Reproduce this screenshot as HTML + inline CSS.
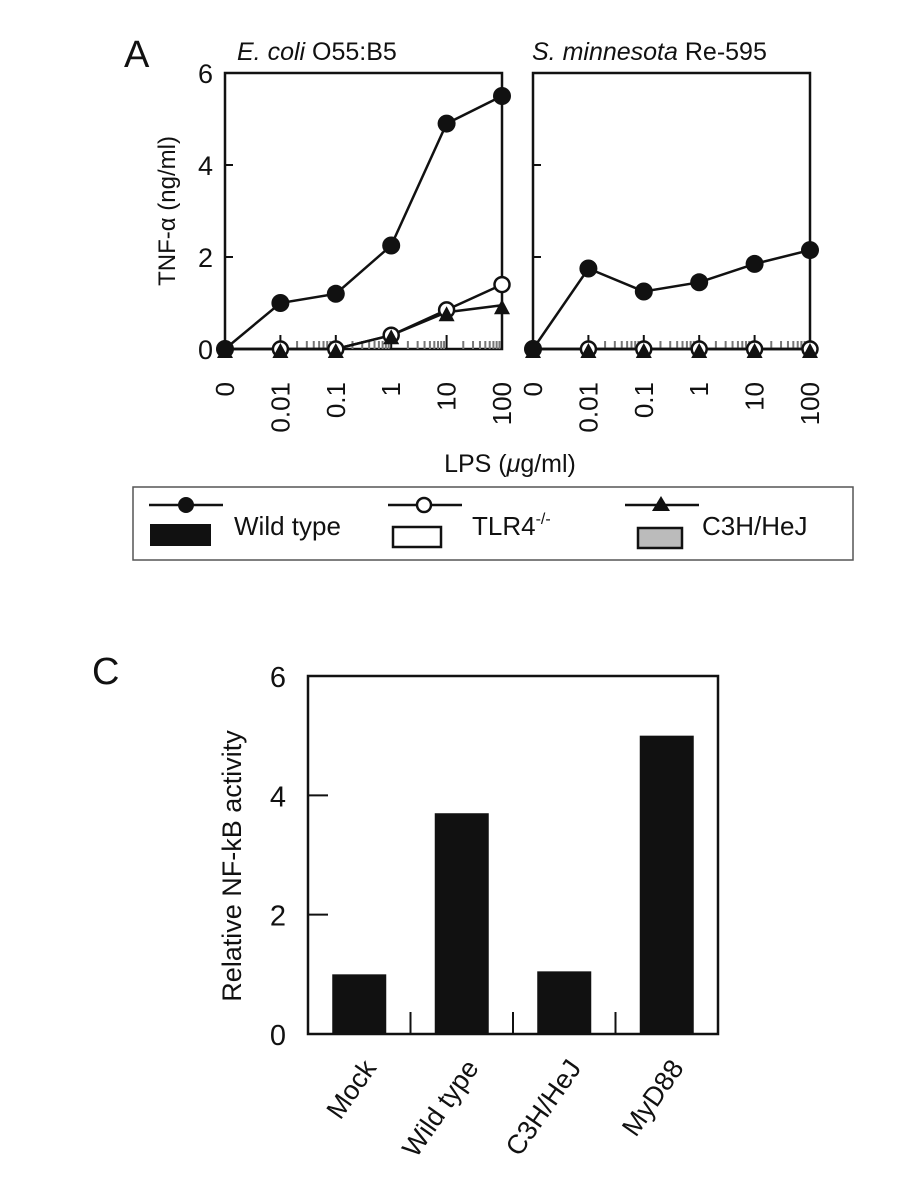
<!DOCTYPE html>
<html><head><meta charset="utf-8"><style>
html,body{margin:0;padding:0;background:#fff;}
svg{display:block;font-family:"Liberation Sans",sans-serif;}
</style></head><body>
<svg id="fig" width="924" height="1200" viewBox="0 0 924 1200">
<g id="panelA"></g>
<g id="legend">
  <rect x="133" y="487" width="720" height="73" fill="#fff" stroke="#555" stroke-width="1.5"/>
  <g>
    <line x1="149" y1="505" x2="223" y2="505" stroke="#111" stroke-width="2.5"/>
    <circle cx="186" cy="505" r="8" fill="#111"/>
    <rect x="150" y="524" width="61" height="22" fill="#111"/>
    <text x="234" y="535" font-size="26" fill="#111">Wild type</text>
  </g>
  <g>
    <line x1="388" y1="505" x2="462" y2="505" stroke="#111" stroke-width="2.5"/>
    <circle cx="424" cy="505" r="7" fill="#fff" stroke="#111" stroke-width="2.5"/>
    <rect x="393" y="527" width="48" height="20" fill="#fff" stroke="#111" stroke-width="2.5"/>
    <text x="472" y="535" font-size="26" fill="#111">TLR4<tspan font-size="16" dy="-11">-/-</tspan></text>
  </g>
  <g>
    <line x1="625" y1="505" x2="699" y2="505" stroke="#111" stroke-width="2.5"/>
    <polygon points="661,496 670,511 652,511" fill="#111"/>
    <rect x="638" y="528" width="44" height="20" fill="#bbb" stroke="#111" stroke-width="2.5"/>
    <text x="702" y="535" font-size="26" fill="#111">C3H/HeJ</text>
  </g>
</g>
<g id="panelC"></g>
</svg>
<script>
// Panel A data
const doses = ["0","0.01","0.1","1","10","100"];
const ecoliWT = [0, 1.0, 1.2, 2.25, 4.9, 5.5];
const ecoliTLR4 = [0, 0, 0, 0.3, 0.85, 1.4];
const ecoliC3H = [0, 0, 0, 0.3, 0.8, 0.95];
const smWT = [0, 1.75, 1.25, 1.45, 1.85, 2.15];
const smTLR4 = [0, 0, 0, 0, 0, 0];
const smC3H = [0, 0, 0, 0, 0, 0];
const yTicksA = [0, 2, 4, 6];
// Panel C data
const cats = ["Mock","Wild type","C3H/HeJ","MyD88"];
const nfkb = [1.0, 3.7, 1.05, 5.0];
const yTicksC = [0, 2, 4, 6];

const NS="http://www.w3.org/2000/svg";
function mk(tag, attrs, parent){const e=document.createElementNS(NS,tag);for(const k in attrs)e.setAttribute(k,attrs[k]);parent.appendChild(e);return e;}

const A=document.getElementById('panelA');
const yA=v=>349-(v/6)*276;
let t=mk('text',{x:124,y:67,'font-size':38,fill:'#111'},A);t.textContent='A';


t=mk('text',{x:0,y:0,'font-size':24,fill:'#111','text-anchor':'middle',transform:'translate(175,211) rotate(-90)'},A);
t.textContent='TNF-α (ng/ml)';


t=mk('text',{x:510,y:472,'font-size':25,fill:'#111','text-anchor':'middle'},A);
t.innerHTML='LPS (<tspan font-style="italic">μ</tspan>g/ml)';



const panels=[
 {x0:225,x1:502,title:'<tspan font-style="italic">E. coli</tspan> O55:B5',tx:237,series:[ecoliWT,ecoliTLR4,ecoliC3H],name:'ecoli',labels:true},
 {x0:533,x1:810,title:'<tspan font-style="italic">S. minnesota</tspan> Re-595',tx:532,series:[smWT,smTLR4,smC3H],name:'sminnesota',labels:false}
];
panels.forEach(p=>{
  const g=mk('g',{},A);
  
  
  const xA=i=>p.x0+(p.x1-p.x0)*i/(doses.length-1);
  const tt=mk('text',{x:p.tx,y:60,'font-size':25,fill:'#111'},g);tt.innerHTML=p.title;
  
  
  const box=mk('rect',{x:p.x0,y:yA(6),width:p.x1-p.x0,height:yA(0)-yA(6),fill:'none',stroke:'#111','stroke-width':2.5},g);
  
  
  yTicksA.forEach(v=>{
    mk('line',{x1:p.x0,x2:p.x0+8,y1:yA(v),y2:yA(v),stroke:'#111','stroke-width':2},g);
    if(p.labels){const l=mk('text',{x:p.x0-12,y:yA(v)+10,'font-size':27,fill:'#111','text-anchor':'end'},g);l.textContent=v;
      
      }
  });
  for(let i=1;i<doses.length;i++){
    mk('line',{x1:xA(i),x2:xA(i),y1:yA(0),y2:yA(0)-14,stroke:'#111','stroke-width':2},g);
    if(i<doses.length-1){
      const a=xA(i),w=xA(i+1)-a;
      for(let k=2;k<=9;k++){const xx=a+w*Math.log10(k);mk('line',{x1:xx,x2:xx,y1:yA(0),y2:yA(0)-8,stroke:'#777','stroke-width':2},g);}
    }
  }
  doses.forEach((d,i)=>{
    const l=mk('text',{x:0,y:0,'font-size':26,fill:'#111','text-anchor':'end',transform:`translate(${xA(i)+9},382) rotate(-90)`},g);
    l.textContent=d;
    
    
  });
  const markers=['circle','open','tri'];
  [0,1,2].forEach(si=>{
    const s=p.series[si];
    const pl=mk('polyline',{points:s.map((v,i)=>xA(i)+','+yA(v)).join(' '),fill:'none',stroke:'#111','stroke-width':2.5},g);
    
    
  });
  [1,2,0].forEach(si=>{
    const s=p.series[si];
    s.forEach((v,i)=>{
      let m;
      if(si===0)m=mk('circle',{cx:xA(i),cy:yA(v),r:9,fill:'#111'},g);
      else if(si===1)m=mk('circle',{cx:xA(i),cy:yA(v),r:7.5,fill:'#fff',stroke:'#111','stroke-width':2.5},g);
      else {const x=xA(i),y=yA(v)+2;m=mk('polygon',{points:`${x},${y-8} ${x+8},${y+7} ${x-8},${y+7}`,fill:'#111'},g);}
      
      
    });
  });
});

// Panel C
const C=document.getElementById('panelC');
const yC=v=>1034-(v/6)*358;
const cx0=308,cx1=718,band=(cx1-cx0)/cats.length;
t=mk('text',{x:92,y:684,'font-size':38,fill:'#111'},C);t.textContent='C';


t=mk('text',{x:0,y:0,'font-size':27,fill:'#111','text-anchor':'middle',transform:'translate(241,866) rotate(-90)'},C);
t.textContent='Relative NF-kB activity';


const fr=mk('rect',{x:cx0,y:yC(6),width:cx1-cx0,height:yC(0)-yC(6),fill:'none',stroke:'#111','stroke-width':2.5},C);


yTicksC.forEach(v=>{
  mk('line',{x1:cx0,x2:cx0+20,y1:yC(v),y2:yC(v),stroke:'#111','stroke-width':2},C);
  const l=mk('text',{x:cx0-22,y:yC(v)+11,'font-size':29,fill:'#111','text-anchor':'end'},C);l.textContent=v;
  
  
});
cats.forEach((c,i)=>{
  const xc=cx0+band*(i+0.5);
  if(i>0)mk('line',{x1:cx0+band*i,x2:cx0+band*i,y1:yC(0),y2:yC(0)-22,stroke:'#111','stroke-width':2},C);
  const b=mk('rect',{x:xc-27,y:yC(nfkb[i]),width:54,height:yC(0)-yC(nfkb[i]),fill:'#111'},C);
  
  
  const l=mk('text',{x:0,y:0,'font-size':27,fill:'#111','text-anchor':'end',transform:`translate(${xc+18},1068) rotate(-55)`},C);
  l.textContent=c;
  
  
});
</script>
</body></html>
